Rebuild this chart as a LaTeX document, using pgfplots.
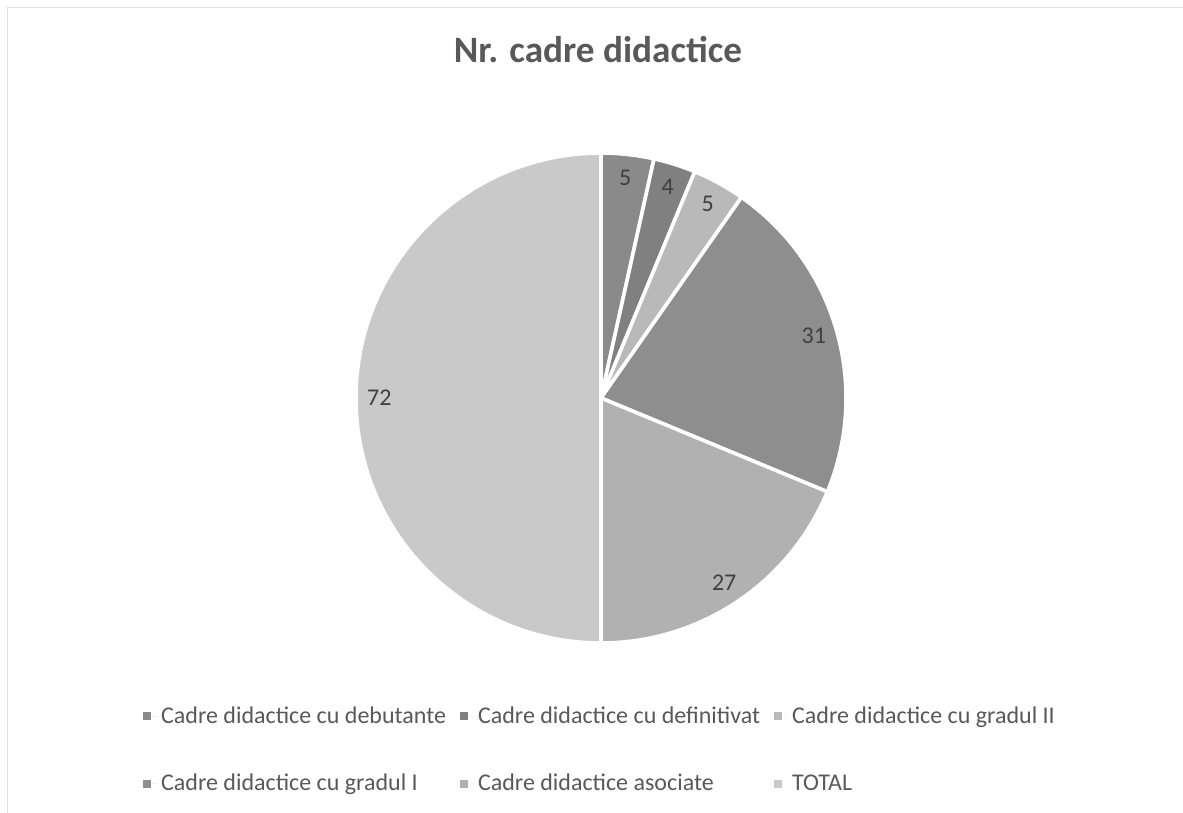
\documentclass[border=0pt]{standalone}
\usepackage{pgfplots}
\pgfplotsset{compat=1.18}
\usepackage{pgfplotstable}
\usepackage{fontspec}
\setmainfont{Carlito}
\definecolor{c0}{HTML}{8A8A8A}
\definecolor{c1}{HTML}{808080}
\definecolor{c2}{HTML}{B9B9B9}
\definecolor{c3}{HTML}{8E8E8E}
\definecolor{c4}{HTML}{B1B1B1}
\definecolor{c5}{HTML}{C9C9C9}
\definecolor{txt}{HTML}{595959}
\definecolor{lab}{HTML}{404040}
\definecolor{frame}{HTML}{E2E2E2}

\pgfplotstableread{
idx value
0 5
1 4
2 5
3 31
4 27
5 72
}\piedata

\begin{document}
\begin{tikzpicture}
\useasboundingbox (0pt,0pt) rectangle (591.5pt,-406.5pt);
\fill[white] (0pt,0pt) rectangle (591.5pt,-406.5pt);
\draw[frame, line width=0.5pt] (3.5pt,-406.5pt) -- (3.5pt,-4pt) -- (591.5pt,-4pt);
% totals and cumulative angles
\xdef\total{0}
\foreach \i in {0,...,5}{%
  \pgfplotstablegetelem{\i}{value}\of\piedata
  \pgfmathparse{\total+\pgfplotsretval}\xdef\total{\pgfmathresult}%
}
\xdef\cum{0}
\foreach \i in {0,...,5}{%
  \pgfplotstablegetelem{\i}{value}\of\piedata
  \let\v\pgfplotsretval
  \pgfmathsetmacro\a{\cum/\total*360}%
  \pgfmathsetmacro\b{(\cum+\v)/\total*360}%
  \pgfmathsetmacro\m{(\a+\b)/2}%
  \expandafter\xdef\csname pa\i\endcsname{\a}%
  \expandafter\xdef\csname pb\i\endcsname{\b}%
  \expandafter\xdef\csname pm\i\endcsname{\m}%
  \pgfmathtruncatemacro\vv{\v}%
  \expandafter\xdef\csname pv\i\endcsname{\vv}%
  \pgfmathparse{\cum+\v}\xdef\cum{\pgfmathresult}%
}
\node[font=\fontsize{18.6}{21}\selectfont\bfseries, text=txt] at (299pt,-25pt) {Nr. cadre didactice};
\begin{axis}[
  at={(300.5pt,-199pt)}, anchor=center,
  x=122.5pt, y=122.5pt,
  xmin=-1, xmax=1, ymin=-1, ymax=1,
  hide axis, clip=false,
  legend columns=3,
  legend cell align=left,
  legend style={
    draw=none, fill=none,
    at={(axis cs:0,-1.437)}, anchor=center,
    font=\fontsize{12}{14}\selectfont, text=txt,
    /tikz/every even column/.append style={column sep=5pt},
    row sep=20pt,
  },
  legend image code/.code={\fill[#1, draw=none] (0pt,-2pt) rectangle (4pt,2pt); \path (0pt,0pt) -- (7pt,0pt);},
]
\pgfplotsinvokeforeach{0,...,5}{%
  \filldraw[fill=c#1, draw=white, line width=1.8pt, line join=round]
    (axis cs:0,0) -- (axis cs:{sin(\csname pa#1\endcsname)},{cos(\csname pa#1\endcsname)})
    arc[start angle={90-\csname pa#1\endcsname}, end angle={90-\csname pb#1\endcsname}, radius=122.5pt] -- cycle;
}
\pgfplotsinvokeforeach{0,...,5}{%
  \node[font=\fontsize{12}{14}\selectfont, text=lab] at (axis cs:{0.905*sin(\csname pm#1\endcsname)},{0.905*cos(\csname pm#1\endcsname)}) {\csname pv#1\endcsname};
}
\addlegendimage{fill=c0, draw=none}\addlegendentry{Cadre didactice cu debutante}
\addlegendimage{fill=c1, draw=none}\addlegendentry{Cadre didactice cu definitivat}
\addlegendimage{fill=c2, draw=none}\addlegendentry{Cadre didactice cu gradul II}
\addlegendimage{fill=c3, draw=none}\addlegendentry{Cadre didactice cu gradul I}
\addlegendimage{fill=c4, draw=none}\addlegendentry{Cadre didactice asociate}
\addlegendimage{fill=c5, draw=none}\addlegendentry{TOTAL}
\end{axis}
\end{tikzpicture}
\end{document}
